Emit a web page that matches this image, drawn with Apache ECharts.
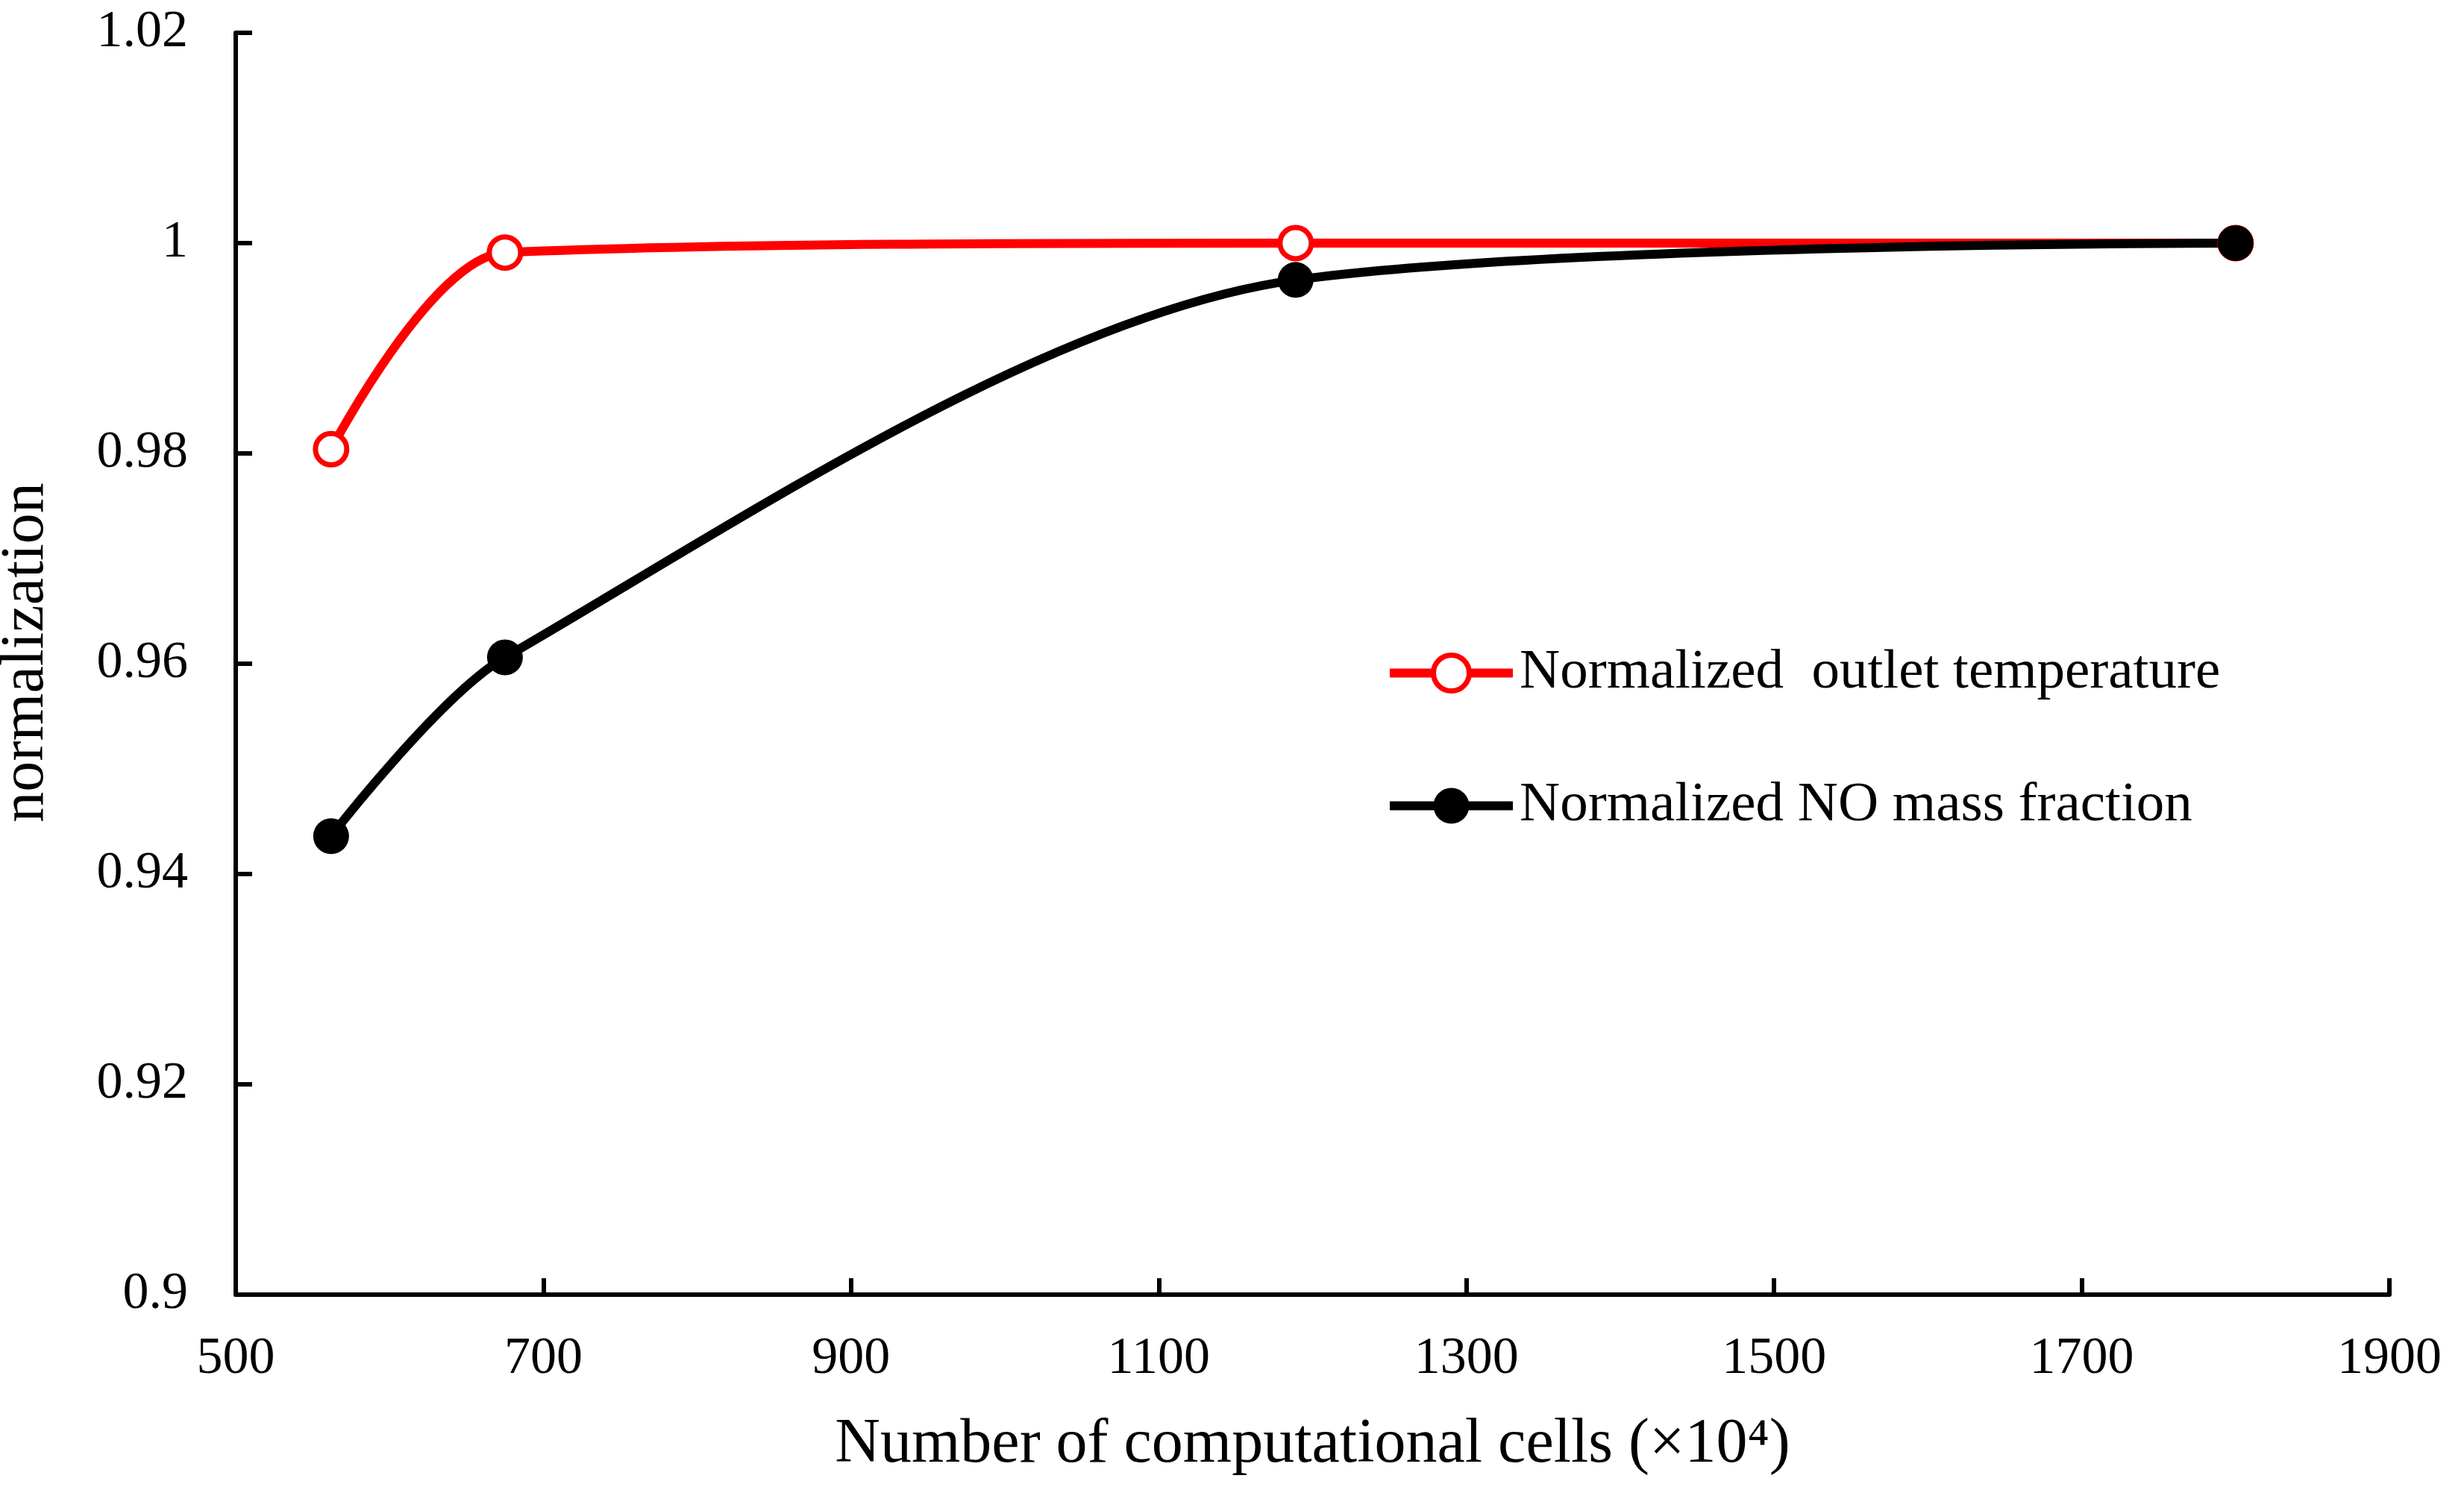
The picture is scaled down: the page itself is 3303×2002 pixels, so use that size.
<!DOCTYPE html>
<html>
<head>
<meta charset="utf-8">
<script src="https://cdn.jsdelivr.net/npm/echarts@6/dist/echarts.min.js"></script>
<style>
  html, body { margin: 0; padding: 0; background: #fff; }
  #chart { width: 3303px; height: 2002px; }
</style>
</head>
<body>
<div id="chart"></div>
<script>
var dom = document.getElementById('chart');
var myChart = echarts.init(dom);

// grid sizes (x 10^4 cells)
var cells = [562, 675, 1189, 1800];
// normalized values
var outletTemp = [0.9804, 0.9991, 1.0, 1.0];
var noFraction = [0.9436, 0.9606, 0.9965, 1.0];

var xTicks = [500, 700, 900, 1100, 1300, 1500, 1700, 1900];
var seriesNames = ['Normalized  outlet temperature', 'Normalized NO mass fraction'];

var font = "'Liberation Serif', 'Times New Roman', serif";

function pairs(xs, ys) {
    return xs.map(function (x, i) { return [x, ys[i]]; });
}

var option = {
    backgroundColor: '#fff',
    animation: false,
    textStyle: { fontFamily: font, color: '#000' },
    grid: { left: 316, right: 100, top: 44, bottom: 266, outerBoundsMode: 'none', containLabel: false },
    legend: {
        orient: 'vertical',
        left: 1852,
        top: 860,
        itemWidth: 165,
        itemHeight: 60,
        itemGap: 103,
        lineStyle: { width: 12 },
        textStyle: { fontFamily: font, fontSize: 75, color: '#000', padding: [0, 0, 0, 4] },
        data: [
            { name: seriesNames[0], itemStyle: { color: '#ffffff', borderColor: '#ff0000', borderWidth: 7 } },
            { name: seriesNames[1], itemStyle: { color: '#000000' } }
        ]
    },
    xAxis: {
        type: 'value',
        min: 500,
        max: 1900,
        interval: 100,
        name: 'Number of computational cells (×10⁴)',
        nameLocation: 'middle',
        nameGap: 160,
        nameTextStyle: { fontFamily: font, fontSize: 84, color: '#000' },
        axisLine: { show: true, onZero: false, lineStyle: { color: '#000', width: 6 } },
        axisTick: { show: true, inside: true, length: 22, customValues: xTicks, lineStyle: { color: '#000', width: 6 } },
        axisLabel: {
            fontFamily: font, fontSize: 70, color: '#000', margin: 52, customValues: xTicks,
            formatter: function (v) { return String(v); }
        },
        splitLine: { show: false }
    },
    yAxis: {
        type: 'value',
        min: 0.9,
        max: 1.02,
        interval: 0.02,
        name: 'normalization',
        nameLocation: 'middle',
        nameGap: 240,
        nameTextStyle: { fontFamily: font, fontSize: 82, color: '#000', padding: [0, 0, 0, 30] },
        axisLine: { show: true, lineStyle: { color: '#000', width: 6 } },
        axisTick: { show: true, inside: true, length: 22, lineStyle: { color: '#000', width: 6 } },
        axisLabel: {
            fontFamily: font, fontSize: 70, color: '#000', margin: 64,
            formatter: function (v) { return String(+v.toFixed(2)); }
        },
        splitLine: { show: false }
    },
    series: [
        {
            name: seriesNames[0],
            type: 'line',
            smooth: 0.3,
            symbol: 'circle',
            symbolSize: 42,
            showAllSymbol: true,
            data: pairs(cells, outletTemp),
            lineStyle: { color: '#ff0000', width: 12 },
            itemStyle: { color: '#ffffff', borderColor: '#ff0000', borderWidth: 7 }
        },
        {
            name: seriesNames[1],
            type: 'line',
            smooth: 0.3,
            symbol: 'circle',
            symbolSize: 48,
            showAllSymbol: true,
            data: pairs(cells, noFraction),
            lineStyle: { color: '#000000', width: 12 },
            itemStyle: { color: '#000000' }
        }
    ]
};

if (option && typeof option === 'object') {
    myChart.setOption(option);
}
</script>
</body>
</html>
